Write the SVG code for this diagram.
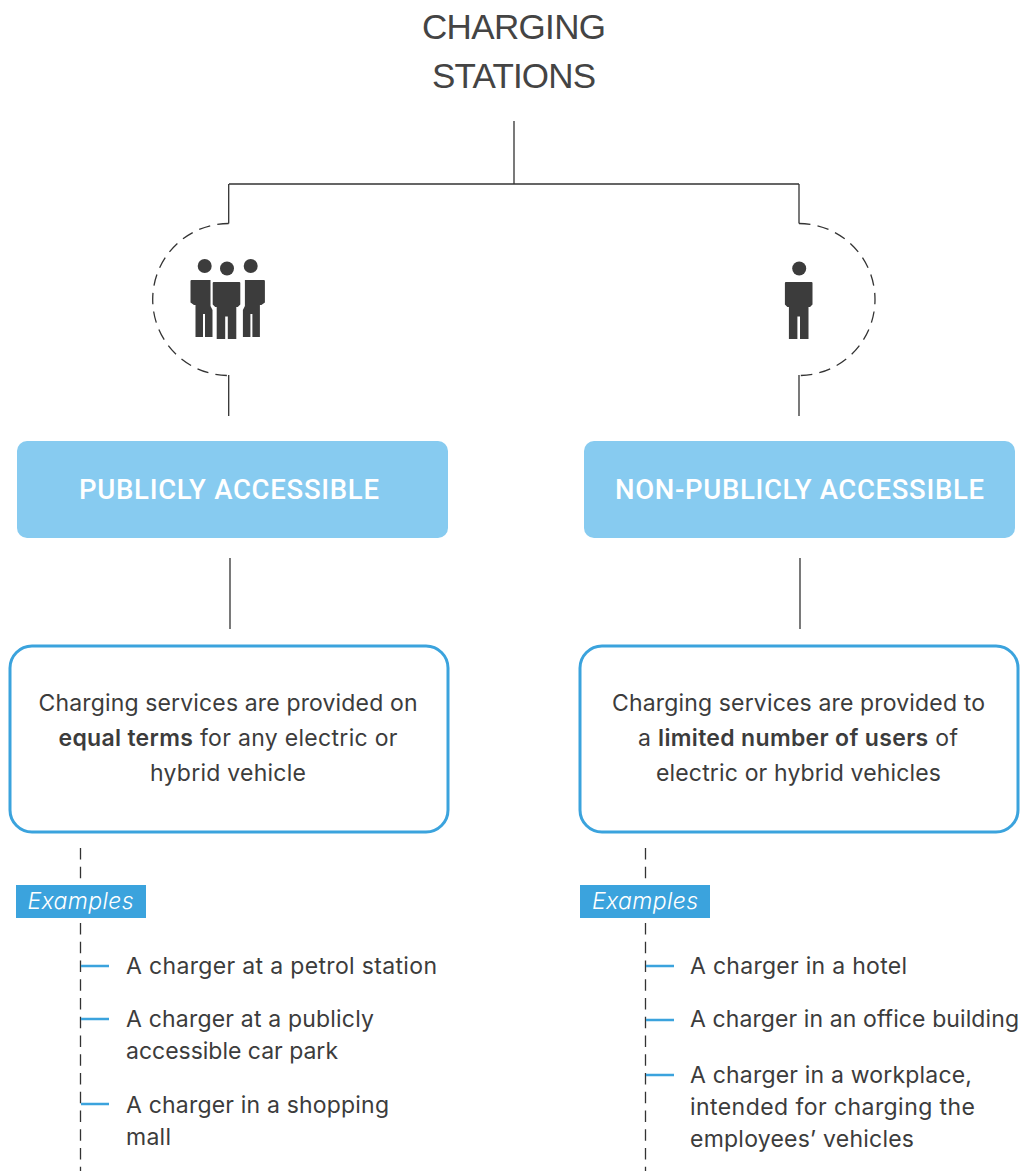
<svg xmlns="http://www.w3.org/2000/svg" width="1022" height="1171" viewBox="0 0 1022 1171">
<style>
text{font-family:Inter,"Noto Sans","Liberation Sans",sans-serif;fill:#3c3c3c}
.t{font-family:"Liberation Sans",Arial,sans-serif;font-size:35px;text-anchor:middle;fill:#444}
.h{font-family:Roboto,"Liberation Sans",sans-serif;font-size:27.500px;font-weight:500;fill:#fff;text-anchor:middle}
.b{font-size:23px;text-anchor:middle;font-weight:400}
.s{font-weight:600}
.l{font-size:23px;font-weight:400}
.e{font-size:23px;font-style:italic;fill:#fff;text-anchor:middle;font-weight:300}
.line{fill:none;stroke:#333;stroke-width:1.300}
.dash{fill:none;stroke:#333;stroke-width:1.300;stroke-dasharray:11.500 7.250}
.tick{stroke:#3ba3dd;stroke-width:2.600;fill:none}
.fill{fill:#87cbf0}
.out{fill:#fff;stroke:#3ba3dd;stroke-width:3}
.tag{fill:#3ba3dd}
.ic{fill:#3c3c3c}
</style>
<defs>
<g id="p">
<circle cx="0" cy="-29.500" r="7"/>
<path d="M-12.300-16h24.600a1 1 0 0 1 1 1v21.500l-2.500 2.500h-1.500v32h-8.500v-22.600h-2.600v22.600h-8.500v-32h-1.500l-2.500-2.500v-21.500a1 1 0 0 1 1-1z"/>
</g>
<g id="q">
<circle cx="204.700" cy="266" r="7"/>
<path d="M192.500 280h18v26l2 4v27h-7.500v-23h-2v23h-7.500v-32h-1.500l-3.500-2.500v-21.500a1 1 0 0 1 1-1z"/>
</g>
</defs>
<g id="connectors">
<path class="line" d="M514 121V184M229 184H799M228.700 184V223.500M799 184V223.500M228.700 375V416M799 375V416M230 558V629M800 558V629"/>
<path class="dash" d="M228.700 223.500A76 76 0 0 0 228.700 375.500"/>
<path class="dash" d="M799 223.500A76 76 0 0 1 799 375.500"/>
<path class="dash" d="M80.500 848V1171M645.500 848V1171"/>
<path class="tick" d="M81 966H109M81 1019H109M81 1104H109M646 966H674M646 1020H674M646 1075H674"/>
</g>
<g id="title"><text class="t" x="514" y="39" textLength="184">CHARGING</text><text class="t" x="514" y="87.500" textLength="164">STATIONS</text></g>
<g id="icon-group" class="ic">
<use href="#q"/>
<use href="#q" transform="matrix(-1 0 0 1 455.400 0)"/>
<use href="#p" x="227" y="298"/>
</g>
<g id="icon-single" class="ic"><use href="#p" x="799.200" y="298"/></g>
<g id="publicly"><rect class="fill" x="17" y="441" width="431" height="97" rx="10"/><text class="h" x="229" y="498.500" textLength="300">PUBLICLY ACCESSIBLE</text></g>
<g id="non-publicly"><rect class="fill" x="584" y="441" width="431" height="97" rx="10"/><text class="h" x="799.500" y="498.500" textLength="369">NON-PUBLICLY ACCESSIBLE</text></g>
<g id="desc-left"><rect class="out" x="10" y="646" width="438" height="186" rx="22"/>
<text class="b" x="228" y="711" textLength="379">Charging services are provided on</text>
<text class="b" x="228" y="746" textLength="339"><tspan class="s">equal terms</tspan> for any electric or</text>
<text class="b" x="228" y="781" textLength="156">hybrid vehicle</text></g>
<g id="desc-right"><rect class="out" x="580" y="646" width="438" height="186" rx="22"/>
<text class="b" x="798.500" y="711" textLength="373">Charging services are provided to</text>
<text class="b" x="798" y="746" textLength="320">a <tspan class="s">limited number of users</tspan> of</text>
<text class="b" x="798.500" y="781" textLength="285">electric or hybrid vehicles</text></g>
<g id="examples-left"><rect class="tag" x="16" y="885" width="130" height="33"/><text class="e" x="80.500" y="909" textLength="106">Examples</text></g>
<g id="examples-right"><rect class="tag" x="580" y="885" width="130" height="33"/><text class="e" x="645" y="909" textLength="106">Examples</text></g>
<g id="list-left">
<text class="l" x="126" y="974" textLength="311">A charger at a petrol station</text>
<text class="l" x="126" y="1027" textLength="248">A charger at a publicly</text>
<text class="l" x="126" y="1059" textLength="212">accessible car park</text>
<text class="l" x="126" y="1113" textLength="263">A charger in a shopping</text>
<text class="l" x="126" y="1145" textLength="45">mall</text>
</g>
<g id="list-right">
<text class="l" x="690" y="974" textLength="217">A charger in a hotel</text>
<text class="l" x="690" y="1027" textLength="329">A charger in an office building</text>
<text class="l" x="690" y="1083" textLength="282">A charger in a workplace,</text>
<text class="l" x="690" y="1115" textLength="285">intended for charging the</text>
<text class="l" x="690" y="1147" textLength="224">employees’ vehicles</text>
</g>
</svg>
